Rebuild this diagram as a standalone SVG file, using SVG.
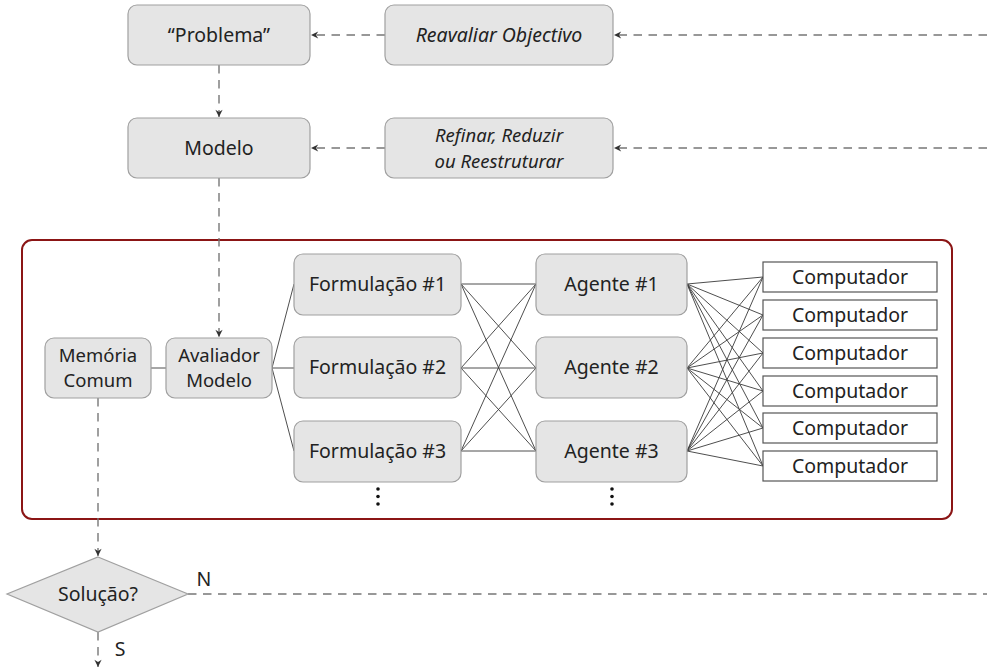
<svg xmlns="http://www.w3.org/2000/svg" width="987" height="670" viewBox="0 0 987 670">
  <style>
    .box { fill: #e5e5e5; stroke: #a0a0a0; stroke-width: 1.2; }
    .comp { fill: #ffffff; stroke: #555555; stroke-width: 1.2; }
    .frame { fill: none; stroke: #8b1515; stroke-width: 2; }
    .lbl { font-family: "Noto Sans", "DejaVu Sans", sans-serif; font-size: 19.5px; fill: #222222; text-anchor: middle; }
    .two { font-size: 18.5px; }
    .it { font-style: italic; }
    .dash { fill: none; stroke: #777777; stroke-width: 1.4; stroke-dasharray: 8.5 6.5; }
    .link { fill: none; stroke: #3a3a3a; stroke-width: 0.9; }
    .dot { fill: #111111; }
  </style>
  <defs>
    <marker id="arr" viewBox="0 0 10 10" refX="9" refY="5" markerWidth="9" markerHeight="9" markerUnits="userSpaceOnUse" orient="auto">
      <path d="M1,1 L9,5 L1,9 L3.5,5 Z" fill="#333333"/>
    </marker>
  </defs>

  <!-- outer frame of the multi-agent system -->
  <rect class="frame" x="22" y="240" width="930" height="279" rx="10"/>

  <!-- connectors -->
  <g id="connectors">
    <line class="dash" x1="987" y1="35" x2="614" y2="35" marker-end="url(#arr)"/>
    <line class="dash" x1="385" y1="35" x2="311" y2="35" marker-end="url(#arr)"/>
    <line class="dash" x1="987" y1="148" x2="614" y2="148" marker-end="url(#arr)"/>
    <line class="dash" x1="385" y1="148" x2="311" y2="148" marker-end="url(#arr)"/>
    <line class="dash" x1="219" y1="65" x2="219" y2="117" marker-end="url(#arr)"/>
    <line class="dash" x1="219" y1="178" x2="219" y2="337" marker-end="url(#arr)"/>
    <line class="dash" x1="98" y1="398" x2="98" y2="556" marker-end="url(#arr)"/>
    <line class="dash" x1="188" y1="594" x2="987" y2="594"/>
    <line class="dash" x1="98" y1="632" x2="98" y2="667" marker-end="url(#arr)"/>

    <line class="link" x1="151" y1="368" x2="166" y2="368"/>
    <line class="link" x1="272" y1="368" x2="294" y2="284"/>
    <line class="link" x1="272" y1="368" x2="294" y2="368"/>
    <line class="link" x1="272" y1="368" x2="294" y2="451"/>

    <!-- formulations to agents -->
    <path class="link" d="M461,284 L536,284 M461,284 L536,368 M461,284 L536,451
                          M461,368 L536,284 M461,368 L536,368 M461,368 L536,451
                          M461,451 L536,284 M461,451 L536,368 M461,451 L536,451"/>

    <!-- agents to computers -->
    <path class="link" d="M687,284 L763,277 M687,284 L763,315 M687,284 L763,353 M687,284 L763,391 M687,284 L763,428 M687,284 L763,466
                          M687,368 L763,277 M687,368 L763,315 M687,368 L763,353 M687,368 L763,391 M687,368 L763,428 M687,368 L763,466
                          M687,451 L763,277 M687,451 L763,315 M687,451 L763,353 M687,451 L763,391 M687,451 L763,428 M687,451 L763,466"/>
  </g>

  <g id="problema">
    <rect class="box" x="128" y="5" width="182" height="60" rx="9"/>
    <text class="lbl" x="219" y="42">“Problema”</text>
  </g>
  <g id="reavaliar">
    <rect class="box" x="385" y="5" width="228" height="60" rx="9"/>
    <text class="lbl it" x="499" y="42">Reavaliar Objectivo</text>
  </g>
  <g id="modelo">
    <rect class="box" x="128" y="118" width="182" height="60" rx="9"/>
    <text class="lbl" x="219" y="155">Modelo</text>
  </g>
  <g id="refinar">
    <rect class="box" x="385" y="118" width="228" height="60" rx="9"/>
    <text class="lbl two it" x="499" y="142">Refinar, Reduzir</text>
    <text class="lbl two it" x="499" y="167.5">ou Reestruturar</text>
  </g>

  <g id="memoria">
    <rect class="box" x="45" y="338" width="106" height="60" rx="9"/>
    <text class="lbl two" x="98" y="361.5">Memória</text>
    <text class="lbl two" x="98" y="387">Comum</text>
  </g>
  <g id="avaliador">
    <rect class="box" x="166" y="338" width="106" height="60" rx="9"/>
    <text class="lbl two" x="219" y="361.5">Avaliador</text>
    <text class="lbl two" x="219" y="387">Modelo</text>
  </g>

  <g id="formulacao1">
    <rect class="box" x="294" y="254" width="167" height="61" rx="9"/>
    <text class="lbl" x="377.5" y="291">Formulação #1</text>
  </g>
  <g id="formulacao2">
    <rect class="box" x="294" y="337" width="167" height="61" rx="9"/>
    <text class="lbl" x="377.5" y="374">Formulação #2</text>
  </g>
  <g id="formulacao3">
    <rect class="box" x="294" y="421" width="167" height="61" rx="9"/>
    <text class="lbl" x="377.5" y="458">Formulação #3</text>
  </g>
  <g id="formulacao-more">
    <circle class="dot" cx="378" cy="489" r="1.8"/>
    <circle class="dot" cx="378" cy="496.5" r="1.8"/>
    <circle class="dot" cx="378" cy="504" r="1.8"/>
  </g>

  <g id="agente1">
    <rect class="box" x="536" y="254" width="151" height="61" rx="9"/>
    <text class="lbl" x="611.5" y="291">Agente #1</text>
  </g>
  <g id="agente2">
    <rect class="box" x="536" y="337" width="151" height="61" rx="9"/>
    <text class="lbl" x="611.5" y="374">Agente #2</text>
  </g>
  <g id="agente3">
    <rect class="box" x="536" y="421" width="151" height="61" rx="9"/>
    <text class="lbl" x="611.5" y="458">Agente #3</text>
  </g>
  <g id="agente-more">
    <circle class="dot" cx="612" cy="489" r="1.8"/>
    <circle class="dot" cx="612" cy="496.5" r="1.8"/>
    <circle class="dot" cx="612" cy="504" r="1.8"/>
  </g>

  <g id="computador1">
    <rect class="comp" x="763" y="262" width="174" height="30"/>
    <text class="lbl" x="850" y="283.5">Computador</text>
  </g>
  <g id="computador2">
    <rect class="comp" x="763" y="300" width="174" height="30"/>
    <text class="lbl" x="850" y="321.5">Computador</text>
  </g>
  <g id="computador3">
    <rect class="comp" x="763" y="338" width="174" height="30"/>
    <text class="lbl" x="850" y="359.5">Computador</text>
  </g>
  <g id="computador4">
    <rect class="comp" x="763" y="376" width="174" height="30"/>
    <text class="lbl" x="850" y="397.5">Computador</text>
  </g>
  <g id="computador5">
    <rect class="comp" x="763" y="413" width="174" height="30"/>
    <text class="lbl" x="850" y="434.5">Computador</text>
  </g>
  <g id="computador6">
    <rect class="comp" x="763" y="451" width="174" height="30"/>
    <text class="lbl" x="850" y="472.5">Computador</text>
  </g>

  <g id="solucao">
    <polygon class="box" points="98,557 188,594 98,632 7,594"/>
    <text class="lbl" x="98" y="601">Solução?</text>
  </g>
  <text class="lbl" x="204" y="586">N</text>
  <text class="lbl" x="120" y="656">S</text>
</svg>
